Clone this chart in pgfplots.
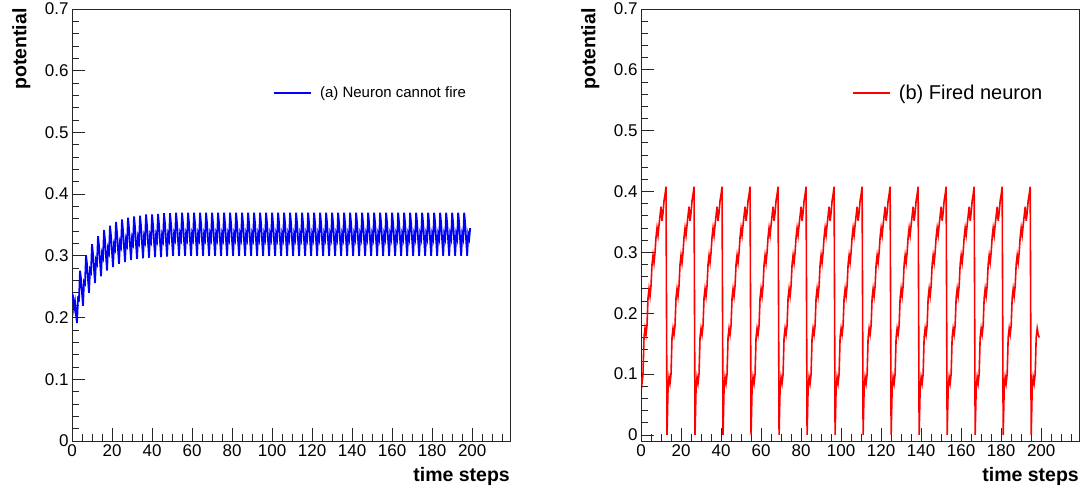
\documentclass[border=0pt]{standalone}
\usepackage{fontspec}
\setmainfont{Liberation Sans}
\usepackage{pgfplots}
\pgfplotsset{compat=1.18}
\definecolor{rootblue}{RGB}{0,0,255}
\definecolor{rootred}{RGB}{255,0,0}
\pgfplotsset{
  rootaxis/.style={
    scale only axis, width=438pt, height=432pt, anchor=south west,
    xmin=0, xmax=218.9, ymax=0.7,
    axis line style={black!85, line width=0.8pt},
    tick style={black!85, line width=0.8pt},
    tick align=inside, xtick pos=left, ytick pos=left,
    major tick length=13pt, minor tick length=6.5pt,
    xtick={0,20,40,60,80,100,120,140,160,180,200},
    xticklabels={0,20,40,60,80,100,120,140,160,180,200},
    minor xtick={0,5,...,215},
    ytick={0,0.1,0.2,0.3,0.4,0.5,0.6,0.7},
    yticklabels={0,0.1,0.2,0.3,0.4,0.5,0.6,0.7},
    minor ytick={0,0.02,...,0.7},
    tick label style={font=\fontsize{17}{20}\selectfont},
    xlabel={time steps}, ylabel={potential},
    xlabel style={at={(axis description cs:1,0)}, anchor=north east, yshift=-26pt, inner sep=0pt, font=\bfseries\fontsize{19.5}{22}\selectfont},
    ylabel style={at={(axis description cs:-0.137,1.002)}, anchor=north east, inner sep=0pt, font=\bfseries\fontsize{19.5}{22}\selectfont},
    legend image code/.code={\draw[#1] (0pt,0pt) -- (37pt,0pt);},
    legend cell align=left,
  }
}
\begin{document}
\begin{tikzpicture}
\useasboundingbox (0,0) rectangle (1081pt,489pt);
\begin{axis}[rootaxis, at={(72pt,48pt)}, ymin=0,
  legend style={draw=none, fill=none, inner sep=0pt, column sep=8pt, nodes={inner sep=0pt},
    at={(axis description cs:0.459,0.8056)}, anchor=west, font=\fontsize{15}{18}\selectfont}]
\addplot[rootblue, line width=1.8pt] table[row sep=\\]{t v\\
0 0.240\\ 0.5 0.235\\ 1 0.215\\ 1.5 0.225\\ 2 0.205\\
2.5 0.191\\ 3 0.231\\ 3.5 0.229\\ 4 0.276\\ 4.5 0.263\\ 5 0.240\\
5.5 0.219\\ 6 0.258\\ 6.5 0.255\\ 7 0.301\\ 7.5 0.286\\ 8 0.262\\
8.5 0.240\\ 9 0.278\\ 9.5 0.274\\ 10 0.319\\ 10.5 0.303\\ 11 0.278\\
11.5 0.256\\ 12 0.293\\ 12.5 0.288\\ 13 0.332\\ 13.5 0.316\\ 14 0.291\\
14.5 0.267\\ 15 0.304\\ 15.5 0.298\\ 16 0.342\\ 16.5 0.325\\ 17 0.299\\
17.5 0.276\\ 18 0.312\\ 18.5 0.306\\ 19 0.349\\ 19.5 0.332\\ 20 0.306\\
20.5 0.282\\ 21 0.318\\ 21.5 0.312\\ 22 0.355\\ 22.5 0.337\\ 23 0.311\\
23.5 0.287\\ 24 0.322\\ 24.5 0.316\\ 25 0.359\\ 25.5 0.341\\ 26 0.315\\
26.5 0.290\\ 27 0.326\\ 27.5 0.319\\ 28 0.362\\ 28.5 0.344\\ 29 0.317\\
29.5 0.293\\ 30 0.328\\ 30.5 0.321\\ 31 0.364\\ 31.5 0.346\\ 32 0.319\\
32.5 0.295\\ 33 0.330\\ 33.5 0.323\\ 34 0.365\\ 34.5 0.348\\ 35 0.321\\
35.5 0.296\\ 36 0.331\\ 36.5 0.324\\ 37 0.367\\ 37.5 0.349\\ 38 0.322\\
38.5 0.297\\ 39 0.332\\ 39.5 0.325\\ 40 0.367\\ 40.5 0.350\\ 41 0.323\\
41.5 0.298\\ 42 0.333\\ 42.5 0.326\\ 43 0.368\\ 43.5 0.350\\ 44 0.323\\
44.5 0.298\\ 45 0.333\\ 45.5 0.326\\ 46 0.369\\ 46.5 0.351\\ 47 0.324\\
47.5 0.299\\ 48 0.334\\ 48.5 0.327\\ 49 0.369\\ 49.5 0.351\\ 50 0.324\\
50.5 0.300\\ 51 0.335\\ 51.5 0.328\\ 52 0.370\\ 52.5 0.352\\ 53 0.325\\
53.5 0.300\\ 54 0.335\\ 54.5 0.328\\ 55 0.370\\ 55.5 0.352\\ 56 0.325\\
56.5 0.300\\ 57 0.335\\ 57.5 0.328\\ 58 0.370\\ 58.5 0.352\\ 59 0.325\\
59.5 0.300\\ 60 0.335\\ 60.5 0.328\\ 61 0.370\\ 61.5 0.352\\ 62 0.325\\
62.5 0.300\\ 63 0.335\\ 63.5 0.328\\ 64 0.370\\ 64.5 0.352\\ 65 0.325\\
65.5 0.300\\ 66 0.335\\ 66.5 0.328\\ 67 0.370\\ 67.5 0.352\\ 68 0.325\\
68.5 0.300\\ 69 0.335\\ 69.5 0.328\\ 70 0.370\\ 70.5 0.352\\ 71 0.325\\
71.5 0.300\\ 72 0.335\\ 72.5 0.328\\ 73 0.370\\ 73.5 0.352\\ 74 0.325\\
74.5 0.300\\ 75 0.335\\ 75.5 0.328\\ 76 0.370\\ 76.5 0.352\\ 77 0.325\\
77.5 0.300\\ 78 0.335\\ 78.5 0.328\\ 79 0.370\\ 79.5 0.352\\ 80 0.325\\
80.5 0.300\\ 81 0.335\\ 81.5 0.328\\ 82 0.370\\ 82.5 0.352\\ 83 0.325\\
83.5 0.300\\ 84 0.335\\ 84.5 0.328\\ 85 0.370\\ 85.5 0.352\\ 86 0.325\\
86.5 0.300\\ 87 0.335\\ 87.5 0.328\\ 88 0.370\\ 88.5 0.352\\ 89 0.325\\
89.5 0.300\\ 90 0.335\\ 90.5 0.328\\ 91 0.370\\ 91.5 0.352\\ 92 0.325\\
92.5 0.300\\ 93 0.335\\ 93.5 0.328\\ 94 0.370\\ 94.5 0.352\\ 95 0.325\\
95.5 0.300\\ 96 0.335\\ 96.5 0.328\\ 97 0.370\\ 97.5 0.352\\ 98 0.325\\
98.5 0.300\\ 99 0.335\\ 99.5 0.328\\ 100 0.370\\ 100.5 0.352\\ 101 0.325\\
101.5 0.300\\ 102 0.335\\ 102.5 0.328\\ 103 0.370\\ 103.5 0.352\\ 104 0.325\\
104.5 0.300\\ 105 0.335\\ 105.5 0.328\\ 106 0.370\\ 106.5 0.352\\ 107 0.325\\
107.5 0.300\\ 108 0.335\\ 108.5 0.328\\ 109 0.370\\ 109.5 0.352\\ 110 0.325\\
110.5 0.300\\ 111 0.335\\ 111.5 0.328\\ 112 0.370\\ 112.5 0.352\\ 113 0.325\\
113.5 0.300\\ 114 0.335\\ 114.5 0.328\\ 115 0.370\\ 115.5 0.352\\ 116 0.325\\
116.5 0.300\\ 117 0.335\\ 117.5 0.328\\ 118 0.370\\ 118.5 0.352\\ 119 0.325\\
119.5 0.300\\ 120 0.335\\ 120.5 0.328\\ 121 0.370\\ 121.5 0.352\\ 122 0.325\\
122.5 0.300\\ 123 0.335\\ 123.5 0.328\\ 124 0.370\\ 124.5 0.352\\ 125 0.325\\
125.5 0.300\\ 126 0.335\\ 126.5 0.328\\ 127 0.370\\ 127.5 0.352\\ 128 0.325\\
128.5 0.300\\ 129 0.335\\ 129.5 0.328\\ 130 0.370\\ 130.5 0.352\\ 131 0.325\\
131.5 0.300\\ 132 0.335\\ 132.5 0.328\\ 133 0.370\\ 133.5 0.352\\ 134 0.325\\
134.5 0.300\\ 135 0.335\\ 135.5 0.328\\ 136 0.370\\ 136.5 0.352\\ 137 0.325\\
137.5 0.300\\ 138 0.335\\ 138.5 0.328\\ 139 0.370\\ 139.5 0.352\\ 140 0.325\\
140.5 0.300\\ 141 0.335\\ 141.5 0.328\\ 142 0.370\\ 142.5 0.352\\ 143 0.325\\
143.5 0.300\\ 144 0.335\\ 144.5 0.328\\ 145 0.370\\ 145.5 0.352\\ 146 0.325\\
146.5 0.300\\ 147 0.335\\ 147.5 0.328\\ 148 0.370\\ 148.5 0.352\\ 149 0.325\\
149.5 0.300\\ 150 0.335\\ 150.5 0.328\\ 151 0.370\\ 151.5 0.352\\ 152 0.325\\
152.5 0.300\\ 153 0.335\\ 153.5 0.328\\ 154 0.370\\ 154.5 0.352\\ 155 0.325\\
155.5 0.300\\ 156 0.335\\ 156.5 0.328\\ 157 0.370\\ 157.5 0.352\\ 158 0.325\\
158.5 0.300\\ 159 0.335\\ 159.5 0.328\\ 160 0.370\\ 160.5 0.352\\ 161 0.325\\
161.5 0.300\\ 162 0.335\\ 162.5 0.328\\ 163 0.370\\ 163.5 0.352\\ 164 0.325\\
164.5 0.300\\ 165 0.335\\ 165.5 0.328\\ 166 0.370\\ 166.5 0.352\\ 167 0.325\\
167.5 0.300\\ 168 0.335\\ 168.5 0.328\\ 169 0.370\\ 169.5 0.352\\ 170 0.325\\
170.5 0.300\\ 171 0.335\\ 171.5 0.328\\ 172 0.370\\ 172.5 0.352\\ 173 0.325\\
173.5 0.300\\ 174 0.335\\ 174.5 0.328\\ 175 0.370\\ 175.5 0.352\\ 176 0.325\\
176.5 0.300\\ 177 0.335\\ 177.5 0.328\\ 178 0.370\\ 178.5 0.352\\ 179 0.325\\
179.5 0.300\\ 180 0.335\\ 180.5 0.328\\ 181 0.370\\ 181.5 0.352\\ 182 0.325\\
182.5 0.300\\ 183 0.335\\ 183.5 0.328\\ 184 0.370\\ 184.5 0.352\\ 185 0.325\\
185.5 0.300\\ 186 0.335\\ 186.5 0.328\\ 187 0.370\\ 187.5 0.352\\ 188 0.325\\
188.5 0.300\\ 189 0.335\\ 189.5 0.328\\ 190 0.370\\ 190.5 0.352\\ 191 0.325\\
191.5 0.300\\ 192 0.335\\ 192.5 0.328\\ 193 0.370\\ 193.5 0.352\\ 194 0.325\\
194.5 0.300\\ 195 0.335\\ 195.5 0.328\\ 196 0.370\\ 196.5 0.352\\ 197 0.325\\
197.5 0.300\\ 198 0.335\\ 198.5 0.328\\ 199 0.345\\
};
\addlegendentry{(a) Neuron cannot fire}
\end{axis}
\begin{axis}[rootaxis, at={(641pt,48pt)}, ymin=-0.01,
  legend style={draw=none, fill=none, inner sep=0pt, column sep=8pt, nodes={inner sep=0pt},
    at={(axis description cs:0.482,0.8056)}, anchor=west, font=\fontsize{20}{24}\selectfont}]
\addplot[rootred, line width=1.6pt] table[row sep=\\]{t v\\
0 0.095\\ 0.5 0.085\\ 1 0.100\\ 1.5 0.160\\ 2 0.175\\ 2.5 0.165\\ 3 0.180\\ 3.5 0.225\\ 4 0.240\\ 4.5 0.228\\ 5 0.245\\ 5.5 0.280\\ 6 0.295\\
6.5 0.283\\ 7 0.300\\ 7.5 0.325\\ 8 0.340\\ 8.5 0.328\\ 9 0.345\\ 9.5 0.360\\ 10 0.375\\ 10.5 0.352\\ 11 0.365\\ 11.5 0.385\\ 12 0.395\\ 12.5 0.408\\
13 0.000\\ 13.5 0.075\\ 14 0.095\\ 14.5 0.085\\ 15 0.100\\ 15.5 0.160\\ 16 0.175\\ 16.5 0.165\\ 17 0.180\\ 17.5 0.225\\ 18 0.240\\ 18.5 0.228\\ 19 0.245\\ 19.5 0.280\\
20 0.295\\ 20.5 0.283\\ 21 0.300\\ 21.5 0.325\\ 22 0.340\\ 22.5 0.328\\ 23 0.345\\ 23.5 0.360\\ 24 0.375\\ 24.5 0.352\\ 25 0.365\\ 25.5 0.385\\ 26 0.395\\ 26.5 0.408\\
27 0.000\\ 27.5 0.075\\ 28 0.095\\ 28.5 0.085\\ 29 0.100\\ 29.5 0.160\\ 30 0.175\\ 30.5 0.165\\ 31 0.180\\ 31.5 0.225\\ 32 0.240\\ 32.5 0.228\\ 33 0.245\\ 33.5 0.280\\
34 0.295\\ 34.5 0.283\\ 35 0.300\\ 35.5 0.325\\ 36 0.340\\ 36.5 0.328\\ 37 0.345\\ 37.5 0.360\\ 38 0.375\\ 38.5 0.352\\ 39 0.365\\ 39.5 0.385\\ 40 0.395\\ 40.5 0.408\\
41 0.000\\ 41.5 0.075\\ 42 0.095\\ 42.5 0.085\\ 43 0.100\\ 43.5 0.160\\ 44 0.175\\ 44.5 0.165\\ 45 0.180\\ 45.5 0.225\\ 46 0.240\\ 46.5 0.228\\ 47 0.245\\ 47.5 0.280\\
48 0.295\\ 48.5 0.283\\ 49 0.300\\ 49.5 0.325\\ 50 0.340\\ 50.5 0.328\\ 51 0.345\\ 51.5 0.360\\ 52 0.375\\ 52.5 0.352\\ 53 0.365\\ 53.5 0.385\\ 54 0.395\\ 54.5 0.408\\
55 0.000\\ 55.5 0.075\\ 56 0.095\\ 56.5 0.085\\ 57 0.100\\ 57.5 0.160\\ 58 0.175\\ 58.5 0.165\\ 59 0.180\\ 59.5 0.225\\ 60 0.240\\ 60.5 0.228\\ 61 0.245\\ 61.5 0.280\\
62 0.295\\ 62.5 0.283\\ 63 0.300\\ 63.5 0.325\\ 64 0.340\\ 64.5 0.328\\ 65 0.345\\ 65.5 0.360\\ 66 0.375\\ 66.5 0.352\\ 67 0.365\\ 67.5 0.385\\ 68 0.395\\ 68.5 0.408\\
69 0.000\\ 69.5 0.075\\ 70 0.095\\ 70.5 0.085\\ 71 0.100\\ 71.5 0.160\\ 72 0.175\\ 72.5 0.165\\ 73 0.180\\ 73.5 0.225\\ 74 0.240\\ 74.5 0.228\\ 75 0.245\\ 75.5 0.280\\
76 0.295\\ 76.5 0.283\\ 77 0.300\\ 77.5 0.325\\ 78 0.340\\ 78.5 0.328\\ 79 0.345\\ 79.5 0.360\\ 80 0.375\\ 80.5 0.352\\ 81 0.365\\ 81.5 0.385\\ 82 0.395\\ 82.5 0.408\\
83 0.000\\ 83.5 0.075\\ 84 0.095\\ 84.5 0.085\\ 85 0.100\\ 85.5 0.160\\ 86 0.175\\ 86.5 0.165\\ 87 0.180\\ 87.5 0.225\\ 88 0.240\\ 88.5 0.228\\ 89 0.245\\ 89.5 0.280\\
90 0.295\\ 90.5 0.283\\ 91 0.300\\ 91.5 0.325\\ 92 0.340\\ 92.5 0.328\\ 93 0.345\\ 93.5 0.360\\ 94 0.375\\ 94.5 0.352\\ 95 0.365\\ 95.5 0.385\\ 96 0.395\\ 96.5 0.408\\
97 0.000\\ 97.5 0.075\\ 98 0.095\\ 98.5 0.085\\ 99 0.100\\ 99.5 0.160\\ 100 0.175\\ 100.5 0.165\\ 101 0.180\\ 101.5 0.225\\ 102 0.240\\ 102.5 0.228\\ 103 0.245\\ 103.5 0.280\\
104 0.295\\ 104.5 0.283\\ 105 0.300\\ 105.5 0.325\\ 106 0.340\\ 106.5 0.328\\ 107 0.345\\ 107.5 0.360\\ 108 0.375\\ 108.5 0.352\\ 109 0.365\\ 109.5 0.385\\ 110 0.395\\ 110.5 0.408\\
111 0.000\\ 111.5 0.075\\ 112 0.095\\ 112.5 0.085\\ 113 0.100\\ 113.5 0.160\\ 114 0.175\\ 114.5 0.165\\ 115 0.180\\ 115.5 0.225\\ 116 0.240\\ 116.5 0.228\\ 117 0.245\\ 117.5 0.280\\
118 0.295\\ 118.5 0.283\\ 119 0.300\\ 119.5 0.325\\ 120 0.340\\ 120.5 0.328\\ 121 0.345\\ 121.5 0.360\\ 122 0.375\\ 122.5 0.352\\ 123 0.365\\ 123.5 0.385\\ 124 0.395\\ 124.5 0.408\\
125 0.000\\ 125.5 0.075\\ 126 0.095\\ 126.5 0.085\\ 127 0.100\\ 127.5 0.160\\ 128 0.175\\ 128.5 0.165\\ 129 0.180\\ 129.5 0.225\\ 130 0.240\\ 130.5 0.228\\ 131 0.245\\ 131.5 0.280\\
132 0.295\\ 132.5 0.283\\ 133 0.300\\ 133.5 0.325\\ 134 0.340\\ 134.5 0.328\\ 135 0.345\\ 135.5 0.360\\ 136 0.375\\ 136.5 0.352\\ 137 0.365\\ 137.5 0.385\\ 138 0.395\\ 138.5 0.408\\
139 0.000\\ 139.5 0.075\\ 140 0.095\\ 140.5 0.085\\ 141 0.100\\ 141.5 0.160\\ 142 0.175\\ 142.5 0.165\\ 143 0.180\\ 143.5 0.225\\ 144 0.240\\ 144.5 0.228\\ 145 0.245\\ 145.5 0.280\\
146 0.295\\ 146.5 0.283\\ 147 0.300\\ 147.5 0.325\\ 148 0.340\\ 148.5 0.328\\ 149 0.345\\ 149.5 0.360\\ 150 0.375\\ 150.5 0.352\\ 151 0.365\\ 151.5 0.385\\ 152 0.395\\ 152.5 0.408\\
153 0.000\\ 153.5 0.075\\ 154 0.095\\ 154.5 0.085\\ 155 0.100\\ 155.5 0.160\\ 156 0.175\\ 156.5 0.165\\ 157 0.180\\ 157.5 0.225\\ 158 0.240\\ 158.5 0.228\\ 159 0.245\\ 159.5 0.280\\
160 0.295\\ 160.5 0.283\\ 161 0.300\\ 161.5 0.325\\ 162 0.340\\ 162.5 0.328\\ 163 0.345\\ 163.5 0.360\\ 164 0.375\\ 164.5 0.352\\ 165 0.365\\ 165.5 0.385\\ 166 0.395\\ 166.5 0.408\\
167 0.000\\ 167.5 0.075\\ 168 0.095\\ 168.5 0.085\\ 169 0.100\\ 169.5 0.160\\ 170 0.175\\ 170.5 0.165\\ 171 0.180\\ 171.5 0.225\\ 172 0.240\\ 172.5 0.228\\ 173 0.245\\ 173.5 0.280\\
174 0.295\\ 174.5 0.283\\ 175 0.300\\ 175.5 0.325\\ 176 0.340\\ 176.5 0.328\\ 177 0.345\\ 177.5 0.360\\ 178 0.375\\ 178.5 0.352\\ 179 0.365\\ 179.5 0.385\\ 180 0.395\\ 180.5 0.408\\
181 0.000\\ 181.5 0.075\\ 182 0.095\\ 182.5 0.085\\ 183 0.100\\ 183.5 0.160\\ 184 0.175\\ 184.5 0.165\\ 185 0.180\\ 185.5 0.225\\ 186 0.240\\ 186.5 0.228\\ 187 0.245\\ 187.5 0.280\\
188 0.295\\ 188.5 0.283\\ 189 0.300\\ 189.5 0.325\\ 190 0.340\\ 190.5 0.328\\ 191 0.345\\ 191.5 0.360\\ 192 0.375\\ 192.5 0.352\\ 193 0.365\\ 193.5 0.385\\ 194 0.395\\ 194.5 0.408\\
195 0.000\\ 195.5 0.075\\ 196 0.095\\ 196.5 0.085\\ 197 0.100\\ 197.5 0.160\\ 198 0.175\\ 198.5 0.165\\ 199 0.160\\
};
\addlegendentry{(b) Fired neuron}
\end{axis}
\end{tikzpicture}
\end{document}
